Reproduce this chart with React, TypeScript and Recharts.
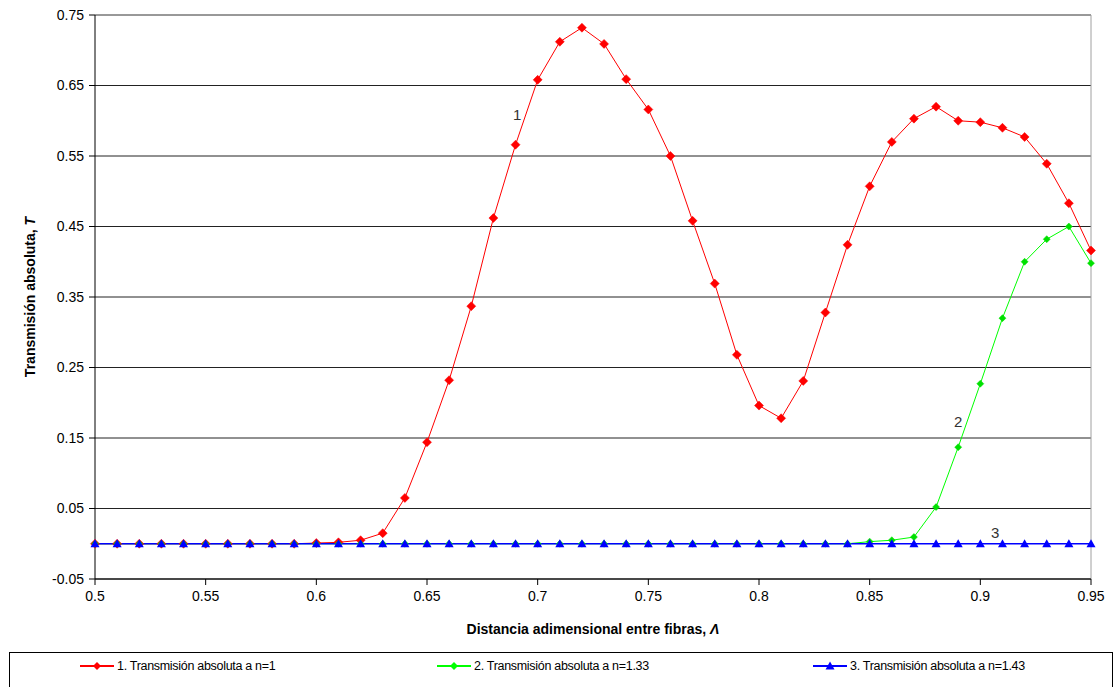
import React from "react";
import {
  LineChart,
  Line,
  XAxis,
  YAxis,
  CartesianGrid,
  ReferenceLine,
  ReferenceDot,
  Label,
} from "recharts";

// distancia adimensional entre fibras
const distances = [
  0.5, 0.51, 0.52, 0.53, 0.54, 0.55, 0.56, 0.57, 0.58, 0.59,
  0.6, 0.61, 0.62, 0.63, 0.64, 0.65, 0.66, 0.67, 0.68, 0.69,
  0.7, 0.71, 0.72, 0.73, 0.74, 0.75, 0.76, 0.77, 0.78, 0.79,
  0.8, 0.81, 0.82, 0.83, 0.84, 0.85, 0.86, 0.87, 0.88, 0.89,
  0.9, 0.91, 0.92, 0.93, 0.94, 0.95,
];

// n = 1
const transN1 = [
  0, 0, 0, 0, 0, 0, 0, 0, 0, 0,
  0.001, 0.002, 0.005, 0.015, 0.065, 0.144, 0.232, 0.337, 0.462, 0.566,
  0.658, 0.712, 0.732, 0.709, 0.659, 0.616, 0.55, 0.458, 0.369, 0.268,
  0.196, 0.178, 0.231, 0.328, 0.424, 0.507, 0.57, 0.603, 0.62, 0.6,
  0.598, 0.59, 0.577, 0.539, 0.483, 0.416,
];

// n = 1.33
const transN133 = [
  0, 0, 0, 0, 0, 0, 0, 0, 0, 0,
  0, 0, 0, 0, 0, 0, 0, 0, 0, 0,
  0, 0, 0, 0, 0, 0, 0, 0, 0, 0,
  0, 0, 0, 0, 0, 0.003, 0.005, 0.0095, 0.052, 0.137,
  0.227, 0.32, 0.4, 0.432, 0.45, 0.398,
];

// n = 1.43
const transN143 = [
  0, 0, 0, 0, 0, 0, 0, 0, 0, 0,
  0, 0, 0, 0, 0, 0, 0, 0, 0, 0,
  0, 0, 0, 0, 0, 0, 0, 0, 0, 0,
  0, 0, 0, 0, 0, 0, 0, 0, 0, 0,
  0, 0, 0, 0, 0, 0,
];

const xTicks = [0.5, 0.55, 0.6, 0.65, 0.7, 0.75, 0.8, 0.85, 0.9, 0.95];
const yTicks = [-0.05, 0.05, 0.15, 0.25, 0.35, 0.45, 0.55, 0.65, 0.75];

const seriesNames = [
  "1. Transmisión absoluta a n=1",
  "2. Transmisión absoluta a n=1.33",
  "3. Transmisión absoluta a n=1.43",
];

const data = distances.map((d, i) => ({
  d,
  s1: transN1[i],
  s2: transN133[i],
  s3: transN143[i],
}));

const FONT = "'Liberation Sans', Arial, sans-serif";

function diamond(color: string, r: number) {
  return (p: any) => {
    const { cx, cy, index } = p;
    if (cx == null || cy == null) return <g key={index} />;
    return (
      <path
        key={index}
        d={`M${cx},${cy - r}L${cx + r},${cy}L${cx},${cy + r}L${cx - r},${cy}Z`}
        fill={color}
        stroke={color}
        strokeWidth={0.5}
      />
    );
  };
}

function triangle(color: string, r: number) {
  return (p: any) => {
    const { cx, cy, index } = p;
    if (cx == null || cy == null) return <g key={index} />;
    return (
      <path
        key={index}
        d={`M${cx},${cy - r}L${cx + r},${cy + r * 0.8}L${cx - r},${cy + r * 0.8}Z`}
        fill={color}
      />
    );
  };
}

function LegendIcon({ color, shape }: { color: string; shape: "diamond" | "triangle" }) {
  return (
    <svg width={34} height={12} style={{ marginRight: 3 }}>
      <line x1={0} y1={6} x2={34} y2={6} stroke={color} strokeWidth={2} />
      {shape === "diamond" ? (
        <path d="M17,2L21,6L17,10L13,6Z" fill={color} />
      ) : (
        <path d="M17,1.5L21.5,9.5L12.5,9.5Z" fill={color} />
      )}
    </svg>
  );
}

const labelStyle = { position: "center" as const, fontSize: 15, fill: "#333", fontFamily: FONT };

export default function App() {
  const legendItems = [
    { name: seriesNames[0], color: "#ff0000", shape: "diamond" as const, left: 80 },
    { name: seriesNames[1], color: "#00ff00", shape: "diamond" as const, left: 437 },
    { name: seriesNames[2], color: "#0000ff", shape: "triangle" as const, left: 813 },
  ];

  return (
    <div
      style={{
        position: "absolute",
        left: 0,
        top: 0,
        width: 1115,
        height: 687,
        background: "#fff",
        fontFamily: FONT,
        overflow: "hidden",
      }}
    >
      <LineChart
        width={1115}
        height={640}
        data={data}
        margin={{ top: 15, right: 24, left: 0, bottom: 0 }}
      >
        <CartesianGrid vertical={false} stroke="#222" strokeWidth={1} />
        <XAxis
          dataKey="d"
          type="number"
          domain={[0.5, 0.95]}
          ticks={xTicks}
          height={61}
          stroke="#000"
          tickSize={6}
          tickMargin={6}
          tick={{ fill: "#000", fontSize: 14, fontFamily: FONT }}
          tickFormatter={(v: number) => String(v)}
        >
          <Label
            content={() => (
              <text
                x={593}
                y={634}
                textAnchor="middle"
                fontFamily={FONT}
                fontSize={14}
                fontWeight="bold"
                fill="#000"
              >
                Distancia adimensional entre fibras, <tspan fontStyle="italic">Λ</tspan>
              </text>
            )}
          />
        </XAxis>
        <YAxis
          type="number"
          domain={[-0.05, 0.75]}
          ticks={yTicks}
          width={95}
          stroke="#000"
          tickSize={6}
          tickMargin={5}
          interval={0}
          tick={{ fill: "#000", fontSize: 14, fontFamily: FONT }}
          tickFormatter={(v: number) => String(v)}
        >
          <Label
            content={() => (
              <text
                x={35}
                y={297}
                transform="rotate(-90 35 297)"
                textAnchor="middle"
                fontFamily={FONT}
                fontSize={14}
                fontWeight="bold"
                fill="#000"
              >
                Transmisión absoluta, <tspan fontStyle="italic">T</tspan>
              </text>
            )}
          />
        </YAxis>
        <ReferenceLine y={0.75} stroke="#a0a0a0" />
        <ReferenceLine x={0.95} stroke="#a0a0a0" />
        <Line
          dataKey="s1"
          name={seriesNames[0]}
          stroke="#ff0000"
          strokeWidth={1}
          dot={diamond("#ff0000", 4.5)}
          isAnimationActive={false}
        />
        <Line
          dataKey="s2"
          name={seriesNames[1]}
          stroke="#00ff00"
          strokeWidth={1}
          dot={diamond("#00e000", 3.5)}
          isAnimationActive={false}
        />
        <Line
          dataKey="s3"
          name={seriesNames[2]}
          stroke="#0000ff"
          strokeWidth={1.5}
          dot={triangle("#0000ff", 4.5)}
          isAnimationActive={false}
        />
        <ReferenceDot x={0.6907} y={0.608} r={0} label={{ value: "1", ...labelStyle }} />
        <ReferenceDot x={0.89} y={0.173} r={0} label={{ value: "2", ...labelStyle }} />
        <ReferenceDot x={0.9067} y={0.0152} r={0} label={{ value: "3", ...labelStyle }} />
      </LineChart>
      <div
        style={{
          position: "absolute",
          left: 9,
          top: 652,
          width: 1104,
          height: 40,
          border: "1px solid #000",
          boxSizing: "border-box",
        }}
      >
        {legendItems.map((it) => (
          <div
            key={it.name}
            style={{
              position: "absolute",
              left: it.left - 10,
              top: 6,
              display: "flex",
              alignItems: "center",
              fontFamily: FONT,
              fontSize: 12.5,
              letterSpacing: -0.3,
              color: "#000",
              whiteSpace: "nowrap",
            }}
          >
            <LegendIcon color={it.color} shape={it.shape} />
            {it.name}
          </div>
        ))}
      </div>
    </div>
  );
}
